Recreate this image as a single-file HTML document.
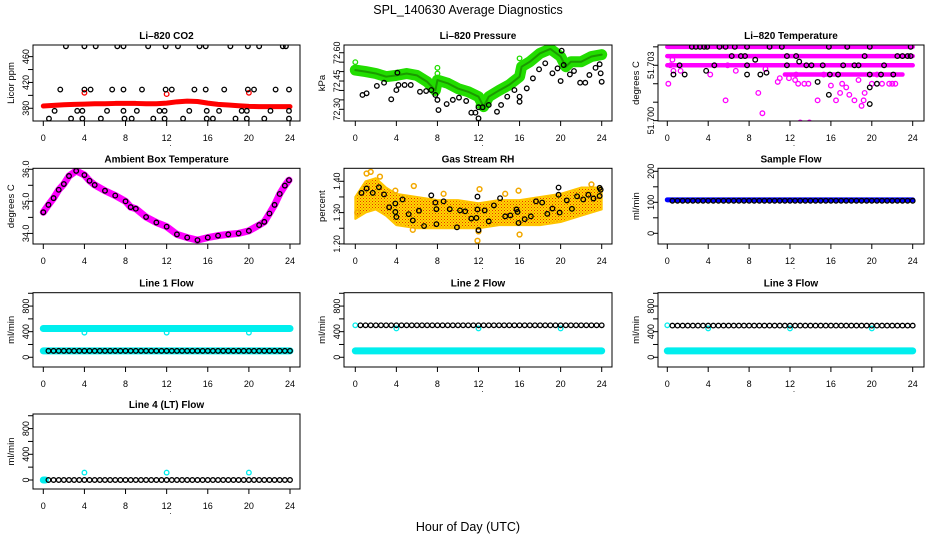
<!DOCTYPE html>
<html><head><meta charset="utf-8"><title>SPL_140630 Average Diagnostics</title>
<style>
html,body{margin:0;padding:0;background:#fff;}
svg{display:block;font-family:"Liberation Sans",Arial,sans-serif;}
</style></head>
<body>
<svg id="chart" width="936" height="540" viewBox="0 0 936 540" xmlns="http://www.w3.org/2000/svg">
<defs>
<pattern id="rhpat" width="3" height="3" patternUnits="userSpaceOnUse">
<rect width="3" height="3" fill="#ffd800"/>
<rect x="0" y="0" width="1" height="1" fill="#e83000"/>
<rect x="1.5" y="1.5" width="1" height="1" fill="#e86000"/>
</pattern>
</defs>
<text x="468" y="14" text-anchor="middle" font-size="12.5">SPL_140630  Average Diagnostics</text>
<text x="468" y="531" text-anchor="middle" font-size="12.5">Hour of Day (UTC)</text>
</svg>
<script>
// ---------- data ----------
const xTicks=[0,4,8,12,16,20,24];
const halfHours=[0.5,1,1.5,2,2.5,3,3.5,4,4.5,5,5.5,6,6.5,7,7.5,8,8.5,9,9.5,10,10.5,11,11.5,12,12.5,13,13.5,14,14.5,15,15.5,16,16.5,17,17.5,18,18.5,19,19.5,20,20.5,21,21.5,22,22.5,23,23.5,24];
const hours=[0,1,2,3,4,5,6,7,8,9,10,11,12,13,14,15,16,17,18,19,20,21,22,23,24];

// CO2
const co2BlackX=[2.2,4.0,5.1,7.2,7.8,10.2,11.9,13.1,15.2,15.8,18.2,19.9,21.0,23.3,23.6,1.65,4.0,4.6,6.7,7.8,9.6,11.9,12.5,14.7,15.8,17.6,19.9,20.5,22.6,23.9,1.1,3.3,3.8,6.2,7.8,9.1,11.3,11.8,14.2,15.9,17.1,19.3,19.8,22.1,23.9,0.55,2.7,3.8,5.6,7.9,8.6,10.7,11.8,13.6,15.9,16.5,18.7,19.8,21.5,23.9];
const co2BlackY=[476,476,476,476,476,476,476,476,476,476,476,476,476,476,476,409,409,409,409,409,409,409,409,409,409,409,409,409,409,409,376,376,376,376,376,376,376,376,376,376,376,376,376,376,376,364,364,364,364,364,364,364,364,364,364,364,364,364,364,364];
const co2RedY=[383.5,384.5,385.5,386,386.5,387,387,387.5,387.5,387.5,387,387,388,390,391,390.5,388,386,385,384,383,382.5,382.5,382.5,382.5];
const co2OutX=[4,12,20];
const co2OutY=[404,402,404];

// Pressure
const presGreenX=[0,1,2,3,4,5,6,7,7.8,8,9,10,11,12,12.5,13,14,15,16,16.2,17,18,19,20,20.5,21,22,23,24];
const presGreenY=[72.508,72.50,72.49,72.473,72.48,72.49,72.48,72.446,72.40,72.455,72.438,72.41,72.393,72.367,72.314,72.367,72.40,72.43,72.473,72.526,72.552,72.597,72.62,72.58,72.526,72.552,72.552,72.58,72.59];
const presGreenOutX=[0,8,8,16,12];
const presGreenOutY=[72.55,72.52,72.49,72.57,72.32];
const presBlackX=[0.7,1.1,2.1,2.8,3.5,4.0,4.1,4.2,4.8,5.4,6.3,6.9,7.4,7.8,8.0,8.1,8.9,9.5,10.1,10.8,11.3,11.7,12.0,12.0,12.4,13.0,13.8,14.2,14.8,15.5,16.0,16.0,16.7,17.3,17.9,18.5,19.2,19.7,20.0,20.1,20.3,20.9,21.3,21.9,22.4,22.8,23.4,23.8,23.9,24.0];
const presBlackY=[72.376,72.385,72.424,72.441,72.353,72.402,72.494,72.429,72.429,72.429,72.393,72.397,72.402,72.376,72.35,72.296,72.328,72.35,72.362,72.344,72.282,72.282,72.252,72.311,72.311,72.323,72.287,72.323,72.367,72.402,72.34,72.367,72.411,72.464,72.512,72.544,72.491,72.517,72.45,72.611,72.535,72.485,72.503,72.441,72.441,72.482,72.52,72.539,72.491,72.446];

// Li-820 temperature
const tempRowY=[51.704,51.7035,51.703,51.7025];
const tempRowX0=[0,0,0,11.5];
const tempRowX1=[24,24,24,23];
const tempMagX=[0.1,0.3,0.5,0.6,1.3,4.2,4.6,5.7,5.9,6.7,8.9,9.3,9.6,10.8,11.0,11.9,12.5,12.6,12.8,13.0,13.4,13.9,13.8,14.7,15.3,16.0,16.5,16.9,17.1,17.5,17.8,18.3,18.7,19.0,19.2,19.3,20.0,20.5,21.0,21.7,22.0,22.3];
const tempMagY=[51.7020,51.7030,51.7033,51.7027,51.7027,51.7025,51.7030,51.7011,51.7030,51.7027,51.7015,51.7004,51.7028,51.7021,51.7023,51.7023,51.7022,51.7025,51.7020,51.6999,51.7020,51.6999,51.7020,51.7011,51.7025,51.7019,51.7011,51.7015,51.7020,51.7018,51.7014,51.7011,51.7022,51.7008,51.7011,51.7015,51.7020,51.7025,51.7020,51.7020,51.7020,51.7020];
const tempBlackX=[2.4,2.8,3.2,3.6,3.9,5.1,5.7,6.6,7.8,10,11.2,15.8,17.6,19.8,23.8,6.3,7.2,7.6,11.7,12.6,19.3,22.5,23.0,23.5,23.8,1.2,4.6,7.8,11.7,13.6,14.1,15.2,17.2,18.3,18.7,21.2,0.6,1.7,7.8,9.1,15.9,16.7,19.8,20.9,22.1,12.9,8.6,3.8,9.7,14.7,20.5,19.8,15.8,19.8];
const tempBlackY=[51.704,51.704,51.704,51.704,51.704,51.704,51.704,51.704,51.704,51.704,51.704,51.704,51.704,51.704,51.704,51.7035,51.7035,51.7035,51.7035,51.7035,51.7035,51.7035,51.7035,51.7035,51.7035,51.703,51.703,51.703,51.703,51.703,51.703,51.703,51.703,51.703,51.703,51.703,51.7025,51.7025,51.7025,51.7025,51.7025,51.7025,51.7025,51.7025,51.7025,51.7032,51.7033,51.7027,51.7026,51.7021,51.702,51.7018,51.7014,51.7009];

// Ambient box temperature
const ambX=[0,0.5,1,1.5,2,2.5,3.2,4,4.5,5,6,7,8,8.5,9,10,11,12,13,14,15,16,17,18,19,20,21,21.5,22,22.5,23,23.5,23.9];
const ambY=[34.66,34.89,35.10,35.36,35.54,35.79,35.95,35.82,35.64,35.51,35.33,35.18,35.0,34.82,34.77,34.51,34.34,34.21,33.97,33.87,33.79,33.87,33.93,33.97,34.0,34.08,34.26,34.36,34.62,34.89,35.23,35.49,35.66];

// Gas stream RH
const rhEnvX=[0,1,2,3,4,6,8,10,12,14,16,18,20,22,24];
const rhUpper=[1.35,1.40,1.41,1.38,1.36,1.35,1.34,1.34,1.33,1.34,1.34,1.35,1.36,1.38,1.38];
const rhLower=[1.28,1.30,1.31,1.29,1.26,1.25,1.25,1.25,1.25,1.26,1.26,1.26,1.27,1.29,1.31];
const rhOutX=[1.1,1.5,2.4,5.7,5.6,8.6,12.1,11.9,12.0,14.6,15.9,16.0,23.0,0.2,3.9];
const rhOutY=[1.425,1.43,1.415,1.385,1.245,1.36,1.375,1.21,1.24,1.36,1.37,1.23,1.39,1.30,1.37];
const rhBlackX=[0.6,1.1,1.7,2.3,2.8,3.3,3.9,3.9,4.0,4.6,5.2,5.6,6.2,6.7,7.4,7.8,7.9,7.9,8.6,9.2,9.9,10.2,10.7,11.3,11.8,11.9,11.9,12.0,12.6,13.0,13.5,14.1,14.6,15.1,15.7,15.8,15.9,16.5,17.1,17.6,18.2,18.7,19.2,19.8,19.8,19.9,20.6,21.1,21.6,22.2,22.7,23.2,23.8,23.8,23.9];
const rhBlackY=[1.363,1.377,1.363,1.381,1.358,1.317,1.329,1.302,1.286,1.342,1.295,1.275,1.306,1.257,1.355,1.332,1.311,1.263,1.336,1.311,1.253,1.307,1.304,1.281,1.283,1.351,1.31,1.244,1.307,1.272,1.323,1.346,1.288,1.291,1.31,1.302,1.267,1.279,1.288,1.336,1.332,1.296,1.313,1.357,1.38,1.30,1.339,1.312,1.352,1.342,1.357,1.345,1.353,1.379,1.373];

// Flows
const sampleBlue=[108,108,108,108,108,108,108,108,108,108,108,108,108,108,108,108,108,108,108,108,108,108,108,108,108];
const sampleBlack=[105,105,105,105,105,105,105,105,105,105,105,105,105,105,105,105,105,105,105,105,105,105,105,105,105,105,105,105,105,105,105,105,105,105,105,105,105,105,105,105,105,105,105,105,105,105,105,105];
const line1CyanHigh=[450,450,450,450,450,450,450,450,450,450,450,450,450,450,450,450,450,450,450,450,450,450,450,450,450];
const line1CyanLow=[100,100,100,100,100,100,100,100,100,100,100,100,100,100,100,100,100,100,100,100,100,100,100,100,100];
const line1Black=[100,100,100,100,100,100,100,100,100,100,100,100,100,100,100,100,100,100,100,100,100,100,100,100,100,100,100,100,100,100,100,100,100,100,100,100,100,100,100,100,100,100,100,100,100,100,100,100];
const line1OutY=[385,385,385];
const line2CyanLow=[100,100,100,100,100,100,100,100,100,100,100,100,100,100,100,100,100,100,100,100,100,100,100,100,100];
const line2Black=[500,500,500,500,500,500,500,500,500,500,500,500,500,500,500,500,500,500,500,500,500,500,500,500,500,500,500,500,500,500,500,500,500,500,500,500,500,500,500,500,500,500,500,500,500,500,500,500];
const line2CyanStart=[500];
const line2OutY=[450,450,450];
const line3CyanLow=[100,100,100,100,100,100,100,100,100,100,100,100,100,100,100,100,100,100,100,100,100,100,100,100,100];
const line3Black=[495,495,495,495,495,495,495,495,495,495,495,495,495,495,495,495,495,495,495,495,495,495,495,495,495,495,495,495,495,495,495,495,495,495,495,495,495,495,495,495,495,495,495,495,495,495,495,495];
const line3CyanStart=[500];
const line3OutY=[450,450,450];
const line4CyanX=[0,0.2];
const line4CyanY=[0,0];
const line4Black=[0,0,0,0,0,0,0,0,0,0,0,0,0,0,0,0,0,0,0,0,0,0,0,0,0,0,0,0,0,0,0,0,0,0,0,0,0,0,0,0,0,0,0,0,0,0,0,0];
const line4OutY=[115,115,115];
const flowOutX=[4,12,20];

// ---------- drawing ----------
const NS="http://www.w3.org/2000/svg";
const svg=document.getElementById('chart');
function mk(tag,attrs,parent){const e=document.createElementNS(NS,tag);for(const k in attrs)e.setAttribute(k,attrs[k]);(parent||svg).appendChild(e);return e;}

const COLS=[{x0:43.3,x24:290,bl:33,br:300},{x0:355.3,x24:601.7,bl:344,br:612},{x0:667.3,x24:912.7,bl:658,br:924}];
const ROWS=[{t:45,b:121},{t:168.3,b:244},{t:292.7,b:367},{t:414,b:489}];

function makePanel(name,title,ylab,col,row,yTop,yBot,yTickVals,yLabelVals){
  const C=COLS[col],R=ROWS[row];
  const g=mk('g',{});
  
  
  const sx=h=>C.x0+(h/24)*(C.x24-C.x0);
  const sy=v=>R.t+(yTop-v)/(yTop-yBot)*(R.b-R.t);
  const clip='clip-'+name;
  const cp=mk('clipPath',{id:clip},g);
  mk('rect',{x:C.bl,y:R.t,width:C.br-C.bl,height:R.b-R.t},cp);
  const plot=mk('g',{'clip-path':'url(#'+clip+')'},g);
  
  
  const box=mk('rect',{x:C.bl,y:R.t,width:C.br-C.bl,height:R.b-R.t,fill:'none',stroke:'#000','stroke-width':1},g);
  
  
  const t=mk('text',{x:(C.bl+C.br)/2,y:R.t-6,'text-anchor':'middle','font-size':10,'font-weight':'bold'},g);
  t.textContent=title;
  
  
  const xa=mk('g',{},g);
  
  
  mk('line',{x1:sx(0),x2:sx(24),y1:R.b,y2:R.b,stroke:'#000'},xa);
  xTicks.forEach(v=>{
    mk('line',{x1:sx(v),x2:sx(v),y1:R.b,y2:R.b+5,stroke:'#000'},xa);
    const l=mk('text',{x:sx(v),y:R.b+20,'text-anchor':'middle','font-size':9},xa);
    l.textContent=v;
    
    
  });
  const dot=mk('text',{x:sx(12)+4,y:R.b+25,'text-anchor':'middle','font-size':8},xa);
  dot.textContent='.';
  
  
  const ya=mk('g',{},g);
  
  
  mk('line',{x1:C.bl,x2:C.bl,y1:sy(yTickVals[0]),y2:sy(yTickVals[yTickVals.length-1]),stroke:'#000'},ya);
  yTickVals.forEach(v=>{mk('line',{x1:C.bl-5,x2:C.bl,y1:sy(v),y2:sy(v),stroke:'#000'},ya);});
  yLabelVals.forEach(v=>{
    const l=mk('text',{x:C.bl-4,y:sy(v),'text-anchor':'middle','font-size':9,transform:'rotate(-90 '+(C.bl-4)+' '+sy(v)+')'},ya);
    l.textContent=v;
    
    
  });
  const yl=mk('text',{x:C.bl-19,y:(R.t+R.b)/2,'text-anchor':'middle','font-size':9.5,transform:'rotate(-90 '+(C.bl-19)+' '+((R.t+R.b)/2)+')'},g);
  yl.textContent=ylab;
  
  
  return {sx,sy,plot};
}
function pts(P,xs,ys,color,name,r,sw){
  const g=mk('g',{},P.plot);
  
  
  xs.forEach((x,i)=>{
    const c=mk('circle',{cx:P.sx(x),cy:P.sy(ys[i]),r:r||2.3,fill:'none',stroke:color,'stroke-width':sw||1.3},g);
    
    
  });
}
function band(P,xs,ys,color,w,name){
  const p=mk('polyline',{points:xs.map((x,i)=>P.sx(x)+','+P.sy(ys[i])).join(' '),fill:'none',stroke:color,'stroke-width':w,'stroke-linejoin':'round','stroke-linecap':'round'},P.plot);
  
  
}

const P1=makePanel('co2','Li\u2013820 CO2','Licor ppm',0,0,478,360.3,[380,400,420,440,460],[380,420,460]);
band(P1,hours,co2RedY,'#ff0000',5,'co2-red-series');
pts(P1,co2OutX,co2OutY,'#ff0000','co2-red-outliers');
pts(P1,co2BlackX,co2BlackY,'#000','co2-black-series');

const P2=makePanel('pressure','Li\u2013820 Pressure','kPa',1,0,72.641,72.238,[72.30,72.35,72.40,72.45,72.50,72.55,72.60],['72.30','72.45','72.60']);
band(P2,presGreenX,presGreenY,'#22dd00',11,'pressure-green-series');
band(P2,presGreenX,presGreenY,'#1a9a00',2,'pressure-green-core');
pts(P2,presGreenOutX,presGreenOutY,'#22dd00','pressure-green-outliers');
pts(P2,presBlackX,presBlackY,'#000','pressure-black-series');

const P3=makePanel('li820-temp','Li\u2013820 Temperature','degrees C',2,0,51.7041,51.69998,[51.700,51.701,51.702,51.703,51.704],['51.700','51.703']);
tempRowY.forEach((v,i)=>{band(P3,[tempRowX0[i],tempRowX1[i]],[v,v],'#ff00ff',4.5,'temp-magenta-row');});
pts(P3,tempMagX,tempMagY,'#ff00ff','temp-magenta-series');
pts(P3,tempBlackX,tempBlackY,'#000','temp-black-series');

const P4=makePanel('ambient-temp','Ambient Box Temperature','degrees C',0,1,36.03,33.67,[34.0,34.5,35.0,35.5,36.0],['34.0','35.0','36.0']);
band(P4,ambX,ambY,'#ff00ff',7,'ambient-magenta-series');
pts(P4,ambX,ambY,'#000','ambient-black-series');

const P5=makePanel('gas-rh','Gas Stream RH','percent',1,1,1.4415,1.1997,[1.20,1.25,1.30,1.35,1.40],['1.20','1.30','1.40']);
const poly=rhEnvX.map((x,i)=>P5.sx(x)+','+P5.sy(rhUpper[i])).concat(rhEnvX.slice().reverse().map((x,j)=>P5.sx(x)+','+P5.sy(rhLower[rhEnvX.length-1-j])));
const rp=mk('polygon',{points:poly.join(' '),fill:'url(#rhpat)',stroke:'#ffc400','stroke-width':2,'stroke-linejoin':'round'},P5.plot);


pts(P5,rhOutX,rhOutY,'#f2a800','rh-orange-outliers',2.4,1.5);
pts(P5,rhBlackX,rhBlackY,'#000','rh-black-series');

const P6=makePanel('sample-flow','Sample Flow','ml/min',2,1,209.7,-34.5,[0,50,100,150,200],[0,100,200]);
band(P6,hours,sampleBlue,'#0000ff',5,'sample-blue-series');
pts(P6,halfHours,sampleBlack,'#000','sample-black-series');

const flowTicks=[0,200,400,600,800,1000];
const flowLabels=[0,400,800];
const P7=makePanel('line1-flow','Line 1 Flow','ml/min',0,2,1009,-152,flowTicks,flowLabels);
band(P7,hours,line1CyanHigh,'#00eeee',7,'line1-cyan-high');
band(P7,hours,line1CyanLow,'#00eeee',7,'line1-cyan-low');
pts(P7,flowOutX,line1OutY,'#00eeee','line1-cyan-outliers');
pts(P7,halfHours,line1Black,'#000','line1-black-series');

const P8=makePanel('line2-flow','Line 2 Flow','ml/min',1,2,1009,-152,flowTicks,flowLabels);
band(P8,hours,line2CyanLow,'#00eeee',7,'line2-cyan-low');
pts(P8,[0],line2CyanStart,'#00eeee','line2-cyan-start');
pts(P8,flowOutX,line2OutY,'#00eeee','line2-cyan-outliers');
pts(P8,halfHours,line2Black,'#000','line2-black-series');

const P9=makePanel('line3-flow','Line 3 Flow','ml/min',2,2,1009,-152,flowTicks,flowLabels);
band(P9,hours,line3CyanLow,'#00eeee',7,'line3-cyan-low');
pts(P9,[0],line3CyanStart,'#00eeee','line3-cyan-start');
pts(P9,flowOutX,line3OutY,'#00eeee','line3-cyan-outliers');
pts(P9,halfHours,line3Black,'#000','line3-black-series');

const P10=makePanel('line4-flow','Line 4 (LT) Flow','ml/min',0,3,1027,-140,flowTicks,flowLabels);
band(P10,line4CyanX,line4CyanY,'#00eeee',7,'line4-cyan-series');
pts(P10,flowOutX,line4OutY,'#00eeee','line4-cyan-outliers');
pts(P10,halfHours,line4Black,'#000','line4-black-series');
</script>
</body></html>
